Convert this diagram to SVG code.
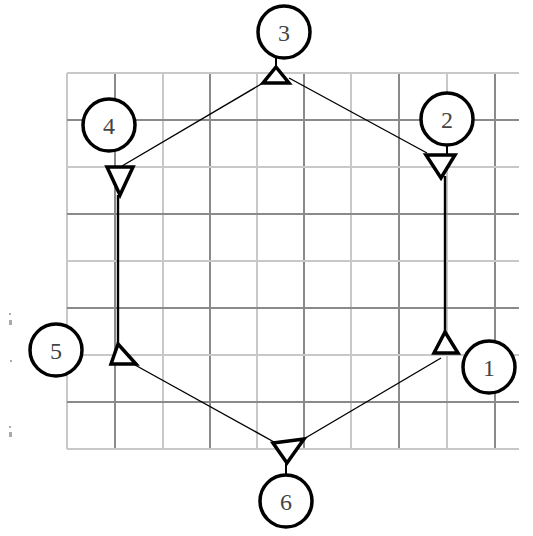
<svg xmlns="http://www.w3.org/2000/svg" width="533" height="536" viewBox="0 0 533 536">
<style>
.lt{stroke:#c8c8c8;stroke-width:2;fill:none}
.dk{stroke:#8a8a8a;stroke-width:2;fill:none}
.edge{stroke:#000;stroke-width:1.4;fill:none}
.vedge{stroke:#000;stroke-width:2.4;fill:none}
.ring{fill:#fff;stroke:#000;stroke-width:3.5}
.tri{fill:#fff;stroke:#000;stroke-width:3.5;stroke-linejoin:miter}
.stem{stroke:#000;stroke-width:2}
.lbl{font-family:"Liberation Serif","DejaVu Serif",serif;font-size:24px;fill:#444;text-anchor:middle}
</style>
<rect width="533" height="536" fill="#fff"/>
<g id="grid">
<line class="lt" x1="67" y1="73" x2="67" y2="449"/>
<line class="dk" x1="115" y1="73" x2="115" y2="449"/>
<line class="lt" x1="163" y1="73" x2="163" y2="449"/>
<line class="dk" x1="210" y1="73" x2="210" y2="449"/>
<line class="lt" x1="257" y1="73" x2="257" y2="449"/>
<line class="dk" x1="304" y1="73" x2="304" y2="449"/>
<line class="lt" x1="351" y1="73" x2="351" y2="449"/>
<line class="dk" x1="399" y1="73" x2="399" y2="449"/>
<line class="lt" x1="447" y1="73" x2="447" y2="449"/>
<line class="dk" x1="495" y1="73" x2="495" y2="449"/>
<line class="lt" x1="67" y1="73" x2="519" y2="73"/>
<line class="dk" x1="67" y1="120" x2="519" y2="120"/>
<line class="lt" x1="67" y1="167" x2="519" y2="167"/>
<line class="dk" x1="67" y1="214" x2="519" y2="214"/>
<line class="lt" x1="67" y1="261" x2="519" y2="261"/>
<line class="dk" x1="67" y1="308" x2="519" y2="308"/>
<line class="lt" x1="67" y1="355" x2="519" y2="355"/>
<line class="dk" x1="67" y1="402" x2="519" y2="402"/>
<line class="lt" x1="67" y1="449" x2="519" y2="449"/>
</g>
<g id="specks" fill="#aaa">
<rect x="9" y="313" width="2" height="2"/>
<rect x="9" y="320" width="3" height="5"/>
<rect x="10" y="360" width="2" height="2"/>
<rect x="9" y="426" width="2" height="2"/>
<rect x="9" y="432" width="3" height="5"/>
</g>
<g id="connectors">
<line class="edge" x1="122" y1="166" x2="263" y2="83"/>
<line class="edge" x1="289" y1="78" x2="427" y2="153"/>
<line class="vedge" x1="445" y1="176" x2="445" y2="332"/>
<line class="edge" x1="441" y1="358" x2="302" y2="440"/>
<line class="edge" x1="274" y1="442" x2="135" y2="365"/>
<line class="vedge" x1="118" y1="343" x2="118" y2="195"/>
</g>
<g id="node1">
<polygon class="tri" points="445,332 458,353 434,353"/>
<circle class="ring" cx="489" cy="367" r="26"/>
<text class="lbl" x="489" y="376">1</text>
</g>
<g id="node2">
<line class="stem" x1="447" y1="145" x2="447" y2="155"/>
<polygon class="tri" points="426,155 455,155 441,178"/>
<circle class="ring" cx="447" cy="119" r="26"/>
<text class="lbl" x="447" y="128">2</text>
</g>
<g id="node3">
<line class="stem" x1="276" y1="58" x2="276" y2="68"/>
<polygon class="tri" points="276,67 289,83 263,83"/>
<circle class="ring" cx="284" cy="32" r="26"/>
<text class="lbl" x="284" y="41">3</text>
</g>
<g id="node4">
<polygon class="tri" points="107,167 133,167 120,195"/>
<circle class="ring" cx="109" cy="125" r="26"/>
<text class="lbl" x="109" y="134">4</text>
</g>
<g id="node5">
<polygon class="tri" points="118,344 136,364 111,364"/>
<circle class="ring" cx="56" cy="350" r="26"/>
<text class="lbl" x="56" y="359">5</text>
</g>
<g id="node6">
<line class="stem" x1="286" y1="462" x2="286" y2="475"/>
<polygon class="tri" points="273,443 304,439 287,463"/>
<circle class="ring" cx="286" cy="501" r="26"/>
<text class="lbl" x="286" y="510">6</text>
</g>
</svg>
